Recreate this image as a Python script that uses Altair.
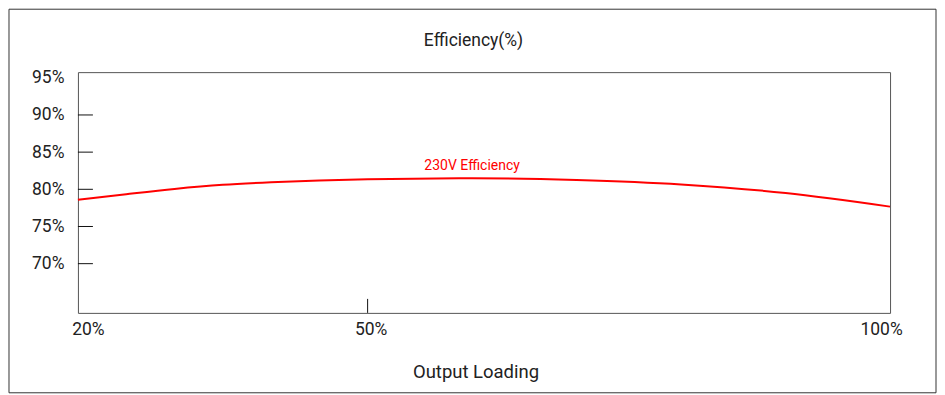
import altair as alt
import pandas as pd

FONT = "Roboto"
TXT = "#222222"

# data
load = [20, 25, 30, 35, 40, 45, 50, 60, 70, 80, 90, 100]
eff = [78.6, 79.35, 80.05, 80.6, 80.95, 81.2, 81.37, 81.5, 81.25, 80.65, 79.5, 77.67]
y_ticks = [70, 75, 80, 85, 90, 95]
y_inner_ticks = [70, 75, 80, 85, 90]
x_ticks = [20, 50, 100]
x_inner_ticks = [50]
series_label = ["230V Efficiency"]
label_load = [60]
label_eff = [82.55]
chart_title = "Efficiency(%)"
x_title = "Output Loading"

df = pd.DataFrame({"load": load, "eff": eff})
lab_df = pd.DataFrame({"load": label_load, "eff": label_eff, "text": series_label})
ytk_df = pd.DataFrame({"eff": y_inner_ticks})
xtk_df = pd.DataFrame({"load": x_inner_ticks})
one = pd.DataFrame({"t": [chart_title]})

xs = alt.Scale(domain=[20, 50, 100], range=[0, 290, 813])
ys = alt.Scale(domain=[63.38, 95.76], nice=False, zero=False)

x_axis = alt.Axis(
    values=x_ticks, ticks=False, domain=False, grid=False,
    labelExpr="datum.value + '%'", labelFont=FONT, labelFontSize=17.5,
    labelColor=TXT, labelPadding=8, labelFlush=False, labelOverlap=False,
    labelOffset={"condition": [{"test": "datum.value == 20", "value": 10},
                               {"test": "datum.value == 100", "value": -9}],
                 "value": 3},
    title=x_title, titleFont=FONT, titleFontSize=18.5, titleFontWeight="normal",
    titleColor=TXT, titleX=398, titleY=65, titleBaseline="alphabetic",
)
y_axis = alt.Axis(
    values=y_ticks, ticks=False, domain=False, grid=False,
    labelExpr="datum.value + '%'", labelFont=FONT, labelFontSize=17.5,
    labelColor=TXT, labelPadding=14, labelFlush=False, labelOverlap=False,
    title=None,
)

X = alt.X("load:Q", scale=xs, axis=x_axis)
Y = alt.Y("eff:Q", scale=ys, axis=y_axis)

line = alt.Chart(df).mark_line(color="#ff0000", strokeWidth=2, interpolate="monotone").encode(x=X, y=Y)

label = alt.Chart(lab_df).mark_text(
    color="#ff0000", font=FONT, fontSize=14, align="center", baseline="alphabetic"
).encode(x=X, y=Y, text="text:N")

ytk = alt.Chart(ytk_df).mark_rule(color="#111111", strokeWidth=1).encode(
    y=Y, x=alt.value(0), x2=alt.value(15)
)
xtk = alt.Chart(xtk_df).mark_rule(color="#111111", strokeWidth=1).encode(
    x=X, y=alt.value(227), y2=alt.value(241)
)

title = alt.Chart(one).mark_text(
    font=FONT, fontSize=17.5, color=TXT, align="center", baseline="alphabetic"
).encode(x=alt.value(396), y=alt.value(-26), text="t:N")

frame = alt.Chart(one).mark_rect(fill="white", fillOpacity=0, stroke="#333333", strokeWidth=1).encode(
    x=alt.value(-69), x2=alt.value(859), y=alt.value(-63), y2=alt.value(321)
)

chart = alt.layer(frame, line, label, ytk, xtk, title).properties(
    width=813, height=241, padding=0, background="white"
).configure_view(stroke="#555555", strokeWidth=1)

chart.save("out.html", embed_options={"renderer": "svg", "actions": False})
